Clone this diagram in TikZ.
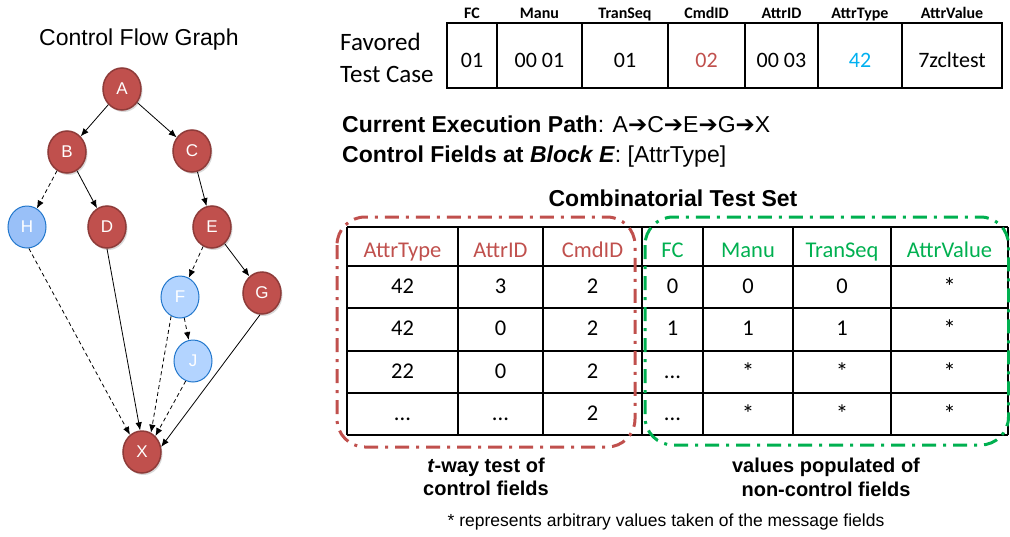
\documentclass[tikz,border=0pt]{standalone}
\usepackage{fontspec}
\setmainfont{Liberation Sans}
\newfontfamily\calibri{Carlito}
\newfontfamily\dejavu{DejaVu Sans}
\usetikzlibrary{shapes.geometric,arrows.meta,shadows}
\definecolor{nodered}{HTML}{C0504D}
\definecolor{nodeborder}{HTML}{8E3B39}
\definecolor{blueH}{HTML}{99C0F8}
\definecolor{blueF}{HTML}{B3D4FF}
\definecolor{blueborder}{HTML}{2277CC}
\definecolor{cyanval}{HTML}{00B0F0}
\definecolor{greenf}{HTML}{00B050}
\newcommand{\rarr}{{\dejavu\symbol{"2794}}}
\tikzset{
  rednode/.style={ellipse, draw=nodeborder, line width=1.5pt, fill=nodered,
    minimum width=38pt, minimum height=42pt, inner sep=0pt, text=white,
    font=\fontsize{17}{20}\selectfont,
    drop shadow={opacity=0.3, shadow xshift=1.5pt, shadow yshift=-2pt}},
  bluenode/.style={ellipse, draw=blueborder, line width=1pt, fill=blueF,
    minimum width=38pt, minimum height=42pt, inner sep=0pt, text=white,
    font=\fontsize{17}{20}\selectfont},
  edgesolid/.style={-{Latex[length=8pt,width=6.5pt]}, line width=0.8pt},
  edgedash/.style={edgesolid, dash pattern=on 4pt off 3pt},
  cell/.style={draw, line width=1.2pt, inner sep=0pt},
  hdr/.style={font=\calibri\bfseries\fontsize{16}{18}\selectfont, anchor=base, inner sep=0pt},
  val/.style={font=\calibri\fontsize{22}{26}\selectfont, anchor=base, inner sep=0pt},
  tval/.style={font=\calibri\fontsize{22.5}{26}\selectfont, anchor=base, inner sep=0pt},
  star/.style={font=\calibri\fontsize{25}{28}\selectfont, anchor=base, inner sep=0pt},
  bigtxt/.style={font=\fontsize{23}{27}\selectfont, anchor=base west, inner sep=0pt},
  captxt/.style={font=\bfseries\fontsize{20}{24}\selectfont, anchor=base, inner sep=0pt},
  groupbox/.style={line width=3pt, rounded corners=28pt, dash pattern=on 14pt off 7pt on 3pt off 7pt}
}
\begin{document}
\begin{tikzpicture}[x=1pt,y=-1pt]
\useasboundingbox (0,0) rectangle (1010,536);

% ---------- Control flow graph ----------
\node[bigtxt] (cfgtitle) at (39,45) {Control Flow Graph};

\node[rednode] (A) at (122,89) {A};
\node[rednode] (B) at (67,152) {B};
\node[rednode] (C) at (192,151) {C};
\node[bluenode, fill=blueH] (H) at (27,227) {H};
\node[rednode] (D) at (107,227) {D};
\node[rednode] (E) at (212,227) {E};
\node[bluenode] (F) at (180,297) {F};
\node[rednode] (G) at (262,293) {G};
\node[bluenode] (J) at (193,361) {J};
\node[rednode] (X) at (142,452) {X};

\draw[edgesolid] (A) -- (B);
\draw[edgesolid] (A) -- (C);
\draw[edgedash] (B) -- (H);
\draw[edgesolid] (B) -- (D);
\draw[edgesolid] (C) -- (E);
\draw[edgedash] (E) -- (F);
\draw[edgesolid] (E) -- (G);
\draw[edgedash] (F) -- (J);
\draw[edgedash] (H.-85) -- (X.125);
\draw[edgesolid] (D.-90) -- (X.95);
\draw[edgedash] (F.-115) -- (X.65);
\draw[edgedash] (J.-110) -- (X.50);
\draw[edgesolid] (G.-95) -- (X.15);

% ---------- Favored test case ----------
\node[bigtxt, font=\calibri\fontsize{25}{28}\selectfont] (fav1) at (340,50) {Favored};
\node[bigtxt, font=\calibri\fontsize{25}{28}\selectfont] (fav2) at (340,82) {Test Case};

\node[cell, minimum width=50pt, minimum height=65pt] (t1) at (472,55.5) {};
\node[cell, minimum width=85pt, minimum height=65pt] (t2) at (539.5,55.5) {};
\node[cell, minimum width=86pt, minimum height=65pt] (t3) at (625,55.5) {};
\node[cell, minimum width=77pt, minimum height=65pt] (t4) at (706.5,55.5) {};
\node[cell, minimum width=73pt, minimum height=65pt] (t5) at (781.5,55.5) {};
\node[cell, minimum width=84pt, minimum height=65pt] (t6) at (860,55.5) {};
\node[cell, minimum width=100pt, minimum height=65pt] (t7) at (952,55.5) {};

\node[hdr] (h1) at (472,18) {FC};
\node[hdr] (h2) at (539.5,18) {Manu};
\node[hdr] (h3) at (625,18) {TranSeq};
\node[hdr] (h4) at (706.5,18) {CmdID};
\node[hdr] (h5) at (781.5,18) {AttrID};
\node[hdr] (h6) at (860,18) {AttrType};
\node[hdr] (h7) at (952,18) {AttrValue};

\node[val] (v1) at (472,67) {01};
\node[val] (v2) at (539.5,67) {00 01};
\node[val] (v3) at (625,67) {01};
\node[val, text=nodered] (v4) at (706.5,67) {02};
\node[val] (v5) at (781.5,67) {00 03};
\node[val, text=cyanval] (v6) at (860,67) {42};
\node[val] (v7) at (952,67) {7zcltest};

% ---------- Path info ----------
\node[bigtxt] (path) at (342,132) {\textbf{Current Execution Path}: A\rarr C\rarr E\rarr G\rarr X};
\node[bigtxt] (ctrl) at (342,162) {\textbf{Control Fields at \textit{Block E}}: [AttrType]};
\node[bigtxt, anchor=base, font=\bfseries\fontsize{23}{27}\selectfont] (cts) at (673,206) {Combinatorial Test Set};

% ---------- Combinatorial table ----------
\foreach \y in {227,266,308,351,393,435} {
  \draw[line width=1.2pt] (347,\y) -- (1008,\y);
}
\foreach \x in {347,458,543,703,793,891,1008} {
  \draw[line width=1.2pt] (\x,227) -- (\x,435);
}
\draw[line width=2pt] (642,227) -- (642,435);

\node[tval, text=nodered] (c1) at (402.5,257) {AttrType};
\node[tval, text=nodered] (c2) at (500.5,257) {AttrID};
\node[tval, text=nodered] (c3) at (592.5,257) {CmdID};
\node[tval, text=greenf] (c4) at (672.5,257) {FC};
\node[tval, text=greenf] (c5) at (748,257) {Manu};
\node[tval, text=greenf] (c6) at (842,257) {TranSeq};
\node[tval, text=greenf] (c7) at (949.5,257) {AttrValue};

\node[tval] (r11) at (402.5,293) {42};
\node[tval] (r12) at (500.5,293) {3};
\node[tval] (r13) at (592.5,293) {2};
\node[tval] (r14) at (672.5,293) {0};
\node[tval] (r15) at (748,293) {0};
\node[tval] (r16) at (842,293) {0};
\node[star] (r17) at (949.5,295) {*};

\node[tval] (r21) at (402.5,335.5) {42};
\node[tval] (r22) at (500.5,335.5) {0};
\node[tval] (r23) at (592.5,335.5) {2};
\node[tval] (r24) at (672.5,335.5) {1};
\node[tval] (r25) at (748,335.5) {1};
\node[tval] (r26) at (842,335.5) {1};
\node[star] (r27) at (949.5,337.5) {*};

\node[tval] (r31) at (402.5,378) {22};
\node[tval] (r32) at (500.5,378) {0};
\node[tval] (r33) at (592.5,378) {2};
\node[tval] (r34) at (672.5,378) {...};
\node[star] (r35) at (748,380) {*};
\node[star] (r36) at (842,380) {*};
\node[star] (r37) at (949.5,380) {*};

\node[tval] (r41) at (402.5,420) {...};
\node[tval] (r42) at (500.5,420) {...};
\node[tval] (r43) at (592.5,420) {2};
\node[tval] (r44) at (672.5,420) {...};
\node[star] (r45) at (748,422) {*};
\node[star] (r46) at (842,422) {*};
\node[star] (r47) at (949.5,422) {*};

% ---------- group boxes ----------
\draw[groupbox, draw=nodered] (337,217) rectangle (635,447);
\draw[groupbox, draw=greenf] (645,217) rectangle (1008.5,445);

\node[captxt] (cap1a) at (486,472) {\textit{t}-way test of};
\node[captxt] (cap1b) at (486,495) {control fields};
\node[captxt] (cap2a) at (826,472) {values populated of};
\node[captxt] (cap2b) at (826,496) {non-control fields};

\node[anchor=base, inner sep=0pt, font=\fontsize{17.5}{20}\selectfont] (foot) at (666,526) {* represents arbitrary values taken of the message fields};
\end{tikzpicture}
\end{document}
